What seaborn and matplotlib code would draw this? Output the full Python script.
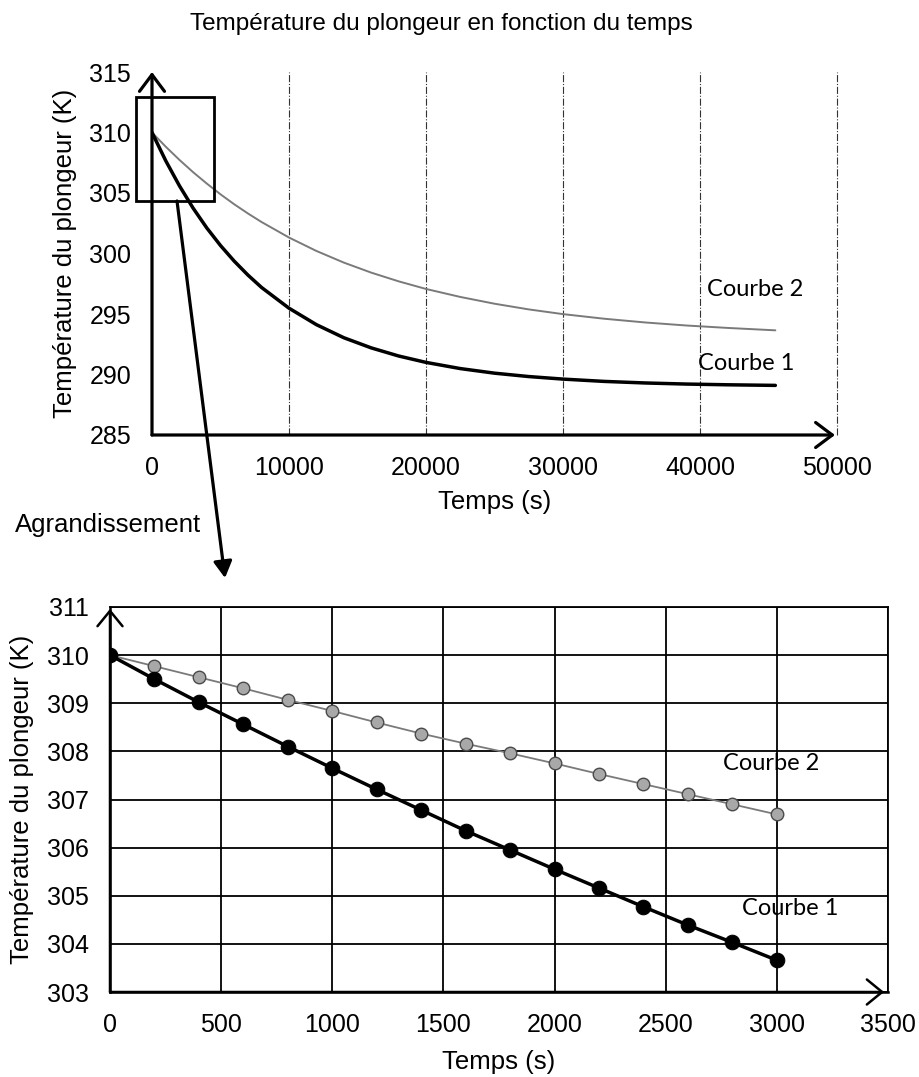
import matplotlib
matplotlib.use("Agg")
import matplotlib.pyplot as plt
import seaborn as sns
import pandas as pd
from matplotlib.patches import Rectangle, ConnectionPatch

# ---------------- data ----------------
t_long = [0, 1000, 2000, 3000, 4000, 5000, 6000, 7000, 8000, 10000, 12000, 14000,
          16000, 18000, 20000, 22500, 25000, 27500, 30000, 33000, 36000, 39000, 42000, 45500]
c1_long = [310.0, 307.67, 305.60, 303.75, 302.11, 300.66, 299.37, 298.22, 297.19, 295.48,
           294.12, 293.04, 292.20, 291.53, 291.00, 290.49, 290.11, 289.83, 289.62, 289.43,
           289.30, 289.21, 289.15, 289.10]
c2_long = [310.0, 308.83, 307.74, 306.72, 305.78, 304.89, 304.07, 303.31, 302.60, 301.32,
           300.21, 299.25, 298.42, 297.70, 297.07, 296.41, 295.85, 295.38, 294.99, 294.61,
           294.30, 294.05, 293.85, 293.65]

t_zoom = [0, 200, 400, 600, 800, 1000, 1200, 1400, 1600, 1800, 2000, 2200, 2400, 2600, 2800, 3000]
c1_zoom = [310.0, 309.50, 309.02, 308.56, 308.10, 307.65, 307.21, 306.78, 306.35, 305.95,
           305.55, 305.16, 304.77, 304.39, 304.03, 303.66]
c2_zoom = [310.0, 309.77, 309.54, 309.31, 309.07, 308.84, 308.60, 308.37, 308.16, 307.96,
           307.75, 307.53, 307.32, 307.11, 306.90, 306.69]

xticks_long = [0, 10000, 20000, 30000, 40000, 50000]
yticks_long = [285, 290, 295, 300, 305, 310, 315]
xticks_zoom = [0, 500, 1000, 1500, 2000, 2500, 3000, 3500]
yticks_zoom = [303, 304, 305, 306, 307, 308, 309, 310, 311]

title = "Température du plongeur en fonction du temps"
ylab = "Température du plongeur (K)"
xlab = "Temps (s)"

# ---------------- style ----------------
sns.set_theme(style="white")
plt.rcParams['font.family'] = ['Liberation Sans', 'DejaVu Sans']
TICK_FS = 18
LAB_FS = 18.5
CURVE_FONT = ['Lato', 'DejaVu Sans']

W, H = 920, 1077
fig = plt.figure(figsize=(W / 100, H / 100), dpi=100)
fig.patch.set_facecolor('white')

def fx(px):
    return px / W

def fy(py):
    return 1 - py / H

# ---------------- top chart ----------------
ax1 = fig.add_axes([fx(152), fy(435), fx(837) - fx(152), fy(72) - fy(435)])
df_long = pd.DataFrame({"t": t_long, "c1": c1_long, "c2": c2_long})
sns.lineplot(data=df_long, x="t", y="c2", ax=ax1, color="#7a7a7a", lw=1.4, sort=True)
sns.lineplot(data=df_long, x="t", y="c1", ax=ax1, color="black", lw=2.5, sort=True)
ax1.set_xlim(0, 50000)
ax1.set_ylim(285, 315)
ax1.set_xticks(xticks_long)
ax1.set_yticks(yticks_long)
ax1.tick_params(axis='both', length=0, labelsize=TICK_FS, pad=15, colors='black')
for s in ax1.spines.values():
    s.set_visible(False)
for xv in xticks_long[1:]:
    ax1.axvline(xv, color='0.2', lw=0.8, ls='-.', zorder=0, clip_on=False)
ax1.set_xlabel(xlab, fontsize=LAB_FS, color='black')
ax1.set_ylabel(ylab, fontsize=LAB_FS, color='black')
ax1.xaxis.set_label_coords(0.5, -0.1846)
ax1.xaxis.label.set_va('center')
ax1.yaxis.set_label_coords(-0.127, 0.5)
ax1.yaxis.label.set_va('center')

arrow_kw = dict(arrowstyle='->,head_length=0.6,head_width=0.45', lw=2.3, color='black',
                shrinkA=0, shrinkB=0, mutation_scale=20)
ax1.annotate('', xy=(0, 1), xytext=(0, 0), xycoords='axes fraction',
             textcoords='axes fraction', arrowprops=arrow_kw, annotation_clip=False)
ax1.annotate('', xy=(0.997, 0), xytext=(0, 0), xycoords='axes fraction',
             textcoords='axes fraction', arrowprops=arrow_kw, annotation_clip=False)

ax1.text(40500, 297.0, "Courbe 2", fontsize=17, family=CURVE_FONT, va='center', ha='left',
         color='black')
ax1.text(39850, 290.95, "Courbe 1", fontsize=17, family=CURVE_FONT, va='center', ha='left',
         color='black')

rect = Rectangle((-1170, 304.34), 4500 + 1170, 312.93 - 304.34, fill=False,
                 ec='black', lw=2.0, clip_on=False, zorder=5)
ax1.add_patch(rect)

con = ConnectionPatch(xyA=(1825, 304.34), coordsA=ax1.transData,
                      xyB=(fx(225), fy(578)), coordsB=fig.transFigure,
                      arrowstyle='-|>,head_length=0.5,head_width=0.28', mutation_scale=20,
                      lw=2.3, color='black', shrinkA=0, shrinkB=0)
fig.add_artist(con)

# ---------------- bottom chart ----------------
ax2 = fig.add_axes([fx(110), fy(992), fx(888) - fx(110), fy(607) - fy(992)])
df_zoom = pd.DataFrame({"t": t_zoom, "c1": c1_zoom, "c2": c2_zoom})
sns.lineplot(data=df_zoom, x="t", y="c2", ax=ax2, color="#7a7a7a", lw=1.3,
             marker='o', markersize=9, markerfacecolor='#a8a8a8',
             markeredgecolor='#4a4a4a', markeredgewidth=1.0, zorder=4)
sns.lineplot(data=df_zoom, x="t", y="c1", ax=ax2, color="black", lw=2.5,
             marker='o', markersize=10.5, markerfacecolor='black',
             markeredgecolor='black', zorder=5)
ax2.set_xlim(0, 3500)
ax2.set_ylim(303, 311)
ax2.set_xticks(xticks_zoom)
ax2.set_yticks(yticks_zoom)
ax2.tick_params(axis='both', length=0, labelsize=TICK_FS, pad=15, colors='black')
ax2.grid(True, color='black', lw=1.3)
ax2.set_axisbelow(True)
for s in ax2.spines.values():
    s.set_visible(True)
    s.set_color('black')
    s.set_linewidth(1.3)
ax2.spines['left'].set_linewidth(1.8)
ax2.spines['bottom'].set_linewidth(1.8)
ax2.set_xlabel(xlab, fontsize=LAB_FS, color='black')
ax2.set_ylabel(ylab, fontsize=LAB_FS, color='black')
ax2.xaxis.set_label_coords(0.5, -0.1818)
ax2.xaxis.label.set_va('center')
ax2.yaxis.set_label_coords(-0.113, 0.5)
ax2.yaxis.label.set_va('center')

arrow_kw2 = dict(arrowstyle='->,head_length=0.55,head_width=0.45', lw=1.8, color='black',
                 shrinkA=0, shrinkB=0, mutation_scale=20)
ax2.annotate('', xy=(0, 0.995), xytext=(0, 0), xycoords='axes fraction',
             textcoords='axes fraction', arrowprops=arrow_kw2, annotation_clip=False)
ax2.annotate('', xy=(0.995, 0), xytext=(0, 0), xycoords='axes fraction',
             textcoords='axes fraction', arrowprops=arrow_kw2, annotation_clip=False)

ax2.text(2757, 307.74, "Courbe 2", fontsize=17, family=CURVE_FONT, va='center', ha='left',
         color='black', zorder=6)
ax2.text(2843, 304.74, "Courbe 1", fontsize=17, family=CURVE_FONT, va='center', ha='left',
         color='black', zorder=6)

# ---------------- figure texts ----------------
fig.text(fx(441), fy(24), title, fontsize=17.5, ha='center', va='center', color='black')
fig.text(fx(15), fy(525), "Agrandissement", fontsize=18.5, ha='left', va='center', color='black')

fig.savefig("out.png", dpi=100, facecolor='white')
